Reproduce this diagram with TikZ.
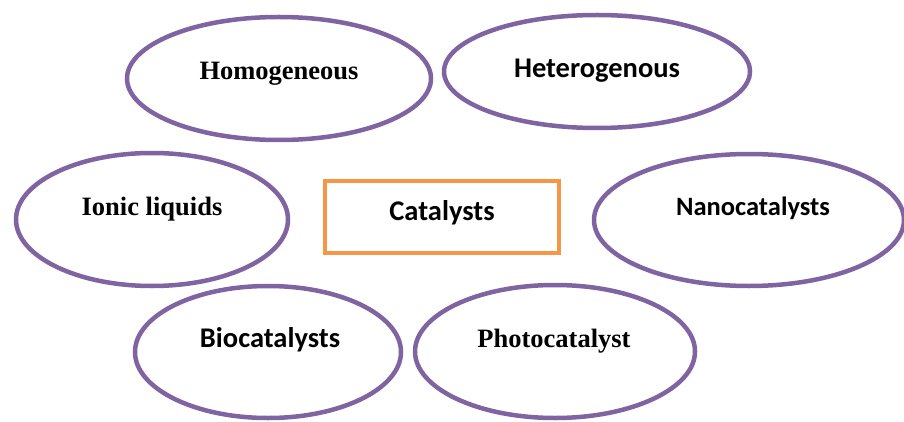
\documentclass[tikz,border=0pt]{standalone}
\usepackage{fontspec}
\setmainfont{Liberation Serif}
\newfontfamily\calib{Carlito}
\usetikzlibrary{shapes.geometric}
\definecolor{ovl}{HTML}{8064A2}
\definecolor{boxc}{HTML}{F79646}
\begin{document}
\begin{tikzpicture}[x=1pt,y=-1pt,
  oval/.style={draw=ovl, line width=4.5pt, ellipse, inner sep=0pt},
  serlab/.style={anchor=base, inner sep=0pt, font=\fontsize{26.5}{30}\selectfont\bfseries},
  sanlab/.style={anchor=base, inner sep=0pt, font=\fontsize{28.5}{32}\selectfont\calib\bfseries},
  centerbox/.style={draw=boxc, line width=4.5pt, rectangle, inner sep=0pt}]
\useasboundingbox (0,0) rectangle (904,422);
\node[oval, minimum width=304pt, minimum height=123pt] (hom) at (279,78.5) {};
\node[oval, minimum width=306pt, minimum height=113pt] (het) at (597,71.5) {};
\node[oval, minimum width=272pt, minimum height=133pt] (ion) at (152,219.5) {};
\node[oval, minimum width=310pt, minimum height=132pt] (nano) at (749,220) {};
\node[oval, minimum width=266pt, minimum height=132pt] (bio) at (268,352) {};
\node[oval, minimum width=280pt, minimum height=133pt] (photo) at (555,351.5) {};
\node[centerbox, minimum width=234pt, minimum height=72pt] (cat) at (442,217) {};
\node[serlab] (homt) at (279,80) {Homogeneous};
\node[sanlab] (hett) at (597,78) {Heterogenous};
\node[serlab] (iont) at (152,215) {Ionic liquids};
\node[sanlab, font=\fontsize{26.5}{30}\selectfont\calib\bfseries] (nanot) at (753,215) {Nanocatalysts};
\node[sanlab] (biot) at (270,347) {Biocatalysts};
\node[serlab] (photot) at (554,347) {Photocatalyst};
\node[sanlab] (catt) at (442,220) {Catalysts};
\end{tikzpicture}
\end{document}
